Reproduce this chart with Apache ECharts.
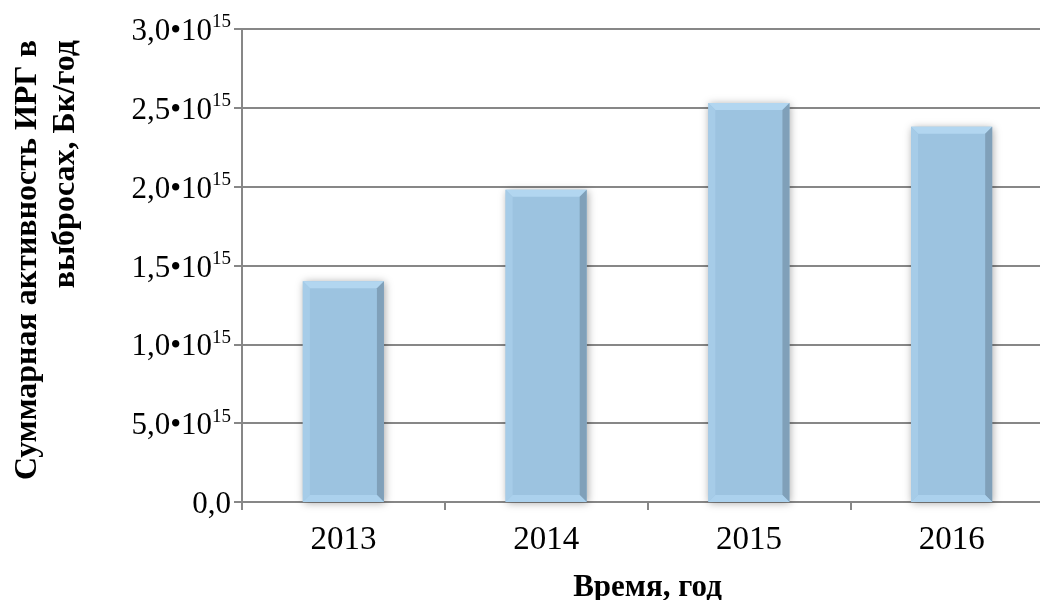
<!DOCTYPE html>
<html>
<head>
<meta charset="utf-8">
<script src="https://cdn.jsdelivr.net/npm/echarts@6/dist/echarts.min.js"></script>
<style>
  html, body { margin: 0; padding: 0; background: #ffffff; }
  #chart { width: 1040px; height: 600px; }
</style>
</head>
<body>
<div id="chart"></div>
<script>
// Annual total activity of inert radioactive gases in releases, units of 10^15 Bq
const years = ['2013', '2014', '2015', '2016'];
const activity = [1.40, 1.98, 2.53, 2.38];
// Tick labels: mantissa and exponent as printed on the axis
const tickMantissa = ['0,0', '5,0', '1,0', '1,5', '2,0', '2,5', '3,0'];
const tickExponent = ['', '15', '15', '15', '15', '15', '15'];

const serif = '"Liberation Serif", "Times New Roman", serif';
const gray = '#878787';

const chart = echarts.init(document.getElementById('chart'), null, { renderer: 'canvas' });

// Bevelled bar: face plus light top/left/bottom edges and a darker right edge
function renderBar(params, api) {
  const idx = api.value(0);
  const val = api.value(1);
  const top = api.coord([idx, val]);
  const base = api.coord([idx, 0]);
  const w = api.size([1, 0])[0] * 0.4;
  const x0 = top[0] - w / 2, x1 = top[0] + w / 2;
  const y0 = top[1], y1 = base[1];
  const b = 7;
  return {
    type: 'group',
    children: [
      { type: 'rect', shape: { x: x0, y: y0, width: w, height: y1 - y0 },
        style: { fill: '#9cc3e0', shadowBlur: 8, shadowColor: 'rgba(0,0,0,0.35)', shadowOffsetX: 1, shadowOffsetY: 1 } },
      { type: 'polygon', shape: { points: [[x0, y0], [x1, y0], [x1 - b, y0 + b], [x0 + b, y0 + b]] },
        style: { fill: '#b2d6f0' } },
      { type: 'polygon', shape: { points: [[x0, y0], [x0 + b, y0 + b], [x0 + b, y1 - b], [x0, y1]] },
        style: { fill: '#a6cce8' } },
      { type: 'polygon', shape: { points: [[x1, y0], [x1, y1], [x1 - b, y1 - b], [x1 - b, y0 + b]] },
        style: { fill: '#80a0b9' } },
      { type: 'polygon', shape: { points: [[x0, y1], [x0 + b, y1 - b], [x1 - b, y1 - b], [x1, y1]] },
        style: { fill: '#abd1ed' } }
    ]
  };
}

chart.setOption({
  animation: false,
  backgroundColor: '#ffffff',
  grid: { left: 242, right: -13, top: 29, bottom: 98, outerBoundsMode: 'none', containLabel: false },
  xAxis: {
    type: 'category',
    data: years,
    boundaryGap: true,
    name: 'Время, год',
    nameLocation: 'middle',
    nameGap: 70,
    nameTextStyle: { fontFamily: serif, fontWeight: 'bold', fontSize: 31, color: '#000' },
    axisLine: { lineStyle: { color: gray, width: 2 } },
    axisTick: { show: true, length: 8, alignWithLabel: false, lineStyle: { color: gray, width: 2 } },
    axisLabel: { fontFamily: serif, fontSize: 33, color: '#000', margin: 22 }
  },
  yAxis: {
    type: 'value',
    min: 0,
    max: 3,
    interval: 0.5,
    axisLine: { show: true, lineStyle: { color: gray, width: 2 } },
    axisTick: { show: true, length: 8, inside: false, lineStyle: { color: gray, width: 2 } },
    splitLine: { show: true, lineStyle: { color: gray, width: 2 } },
    axisLabel: {
      margin: 11,
      formatter: function (v) {
        const i = Math.round(v / 0.5);
        return tickExponent[i] ? '{m|' + tickMantissa[i] + '•10}{s|' + tickExponent[i] + '}' : '{m|' + tickMantissa[i] + '}';
      },
      rich: {
        m: { fontFamily: serif, fontSize: 31, color: '#000', lineHeight: 32, padding: [6, 0, 0, 0] },
        s: { fontFamily: serif, fontSize: 19, color: '#000', verticalAlign: 'top', lineHeight: 22 }
      }
    }
  },
  graphic: [{
    type: 'text',
    x: 47,
    y: 40,
    rotation: Math.PI / 2,
    style: {
      text: 'Суммарная активность ИРГ в\nвыбросах, Бк/год',
      font: 'bold 32px ' + serif,
      fill: '#000',
      align: 'right',
      verticalAlign: 'middle',
      lineHeight: 38
    }
  }],
  series: [{
    type: 'custom',
    renderItem: renderBar,
    data: years.map((y, i) => [i, activity[i]]),
    encode: { x: 0, y: 1 }
  }]
});
</script>
</body>
</html>
